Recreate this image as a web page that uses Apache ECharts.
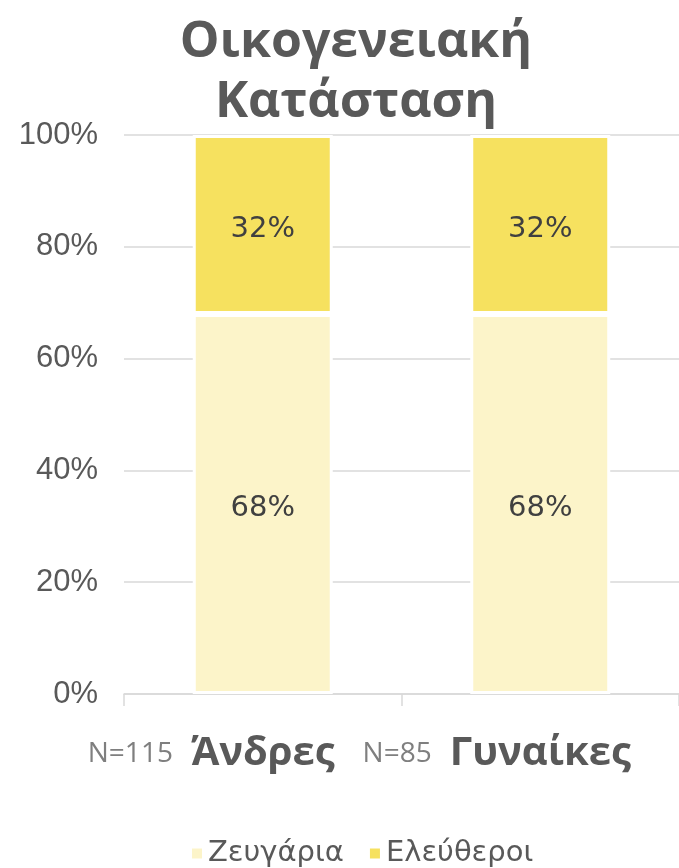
<!DOCTYPE html>
<html>
<head>
<meta charset="utf-8">
<script src="https://cdn.jsdelivr.net/npm/echarts@6/dist/echarts.min.js"></script>
<style>
  html, body { margin: 0; padding: 0; background: #fff; }
  #chart { width: 679px; height: 868px; }
</style>
</head>
<body>
<div id="chart"></div>
<script>
// δεδομένα
var categories = ['Άνδρες', 'Γυναίκες'];
var sampleSizes = ['N=115', 'N=85'];
var seriesNames = ['Ζευγάρια', 'Ελεύθεροι'];
var couples = [68, 68];
var singles = [32, 32];
var yTicks = [0, 20, 40, 60, 80, 100];

var chart = echarts.init(document.getElementById('chart'));

// πλάτος του "N=..." ώστε το όνομα να μένει κεντραρισμένο στην κατηγορία
var nFont = '28px "Open Sans"';
var nGap = 18;
var ctx = document.createElement('canvas').getContext('2d');
ctx.font = nFont;
var xRich = {
    n: { fontFamily: 'Open Sans', fontSize: 28, color: '#7F7F7F', padding: [0, nGap, 0, 0] },
    b: { fontFamily: 'Open Sans', fontWeight: 'bold', fontSize: 40, color: '#595959' }
};
sampleSizes.forEach(function (s, i) {
    xRich['p' + i] = { width: Math.round(ctx.measureText(s).width) + nGap };
});

var labelStyle = {
    show: true,
    position: 'inside',
    offset: [0, 5],
    formatter: '{c}%',
    fontFamily: 'DejaVu Sans',
    fontSize: 29,
    color: '#404040'
};

var option = {
    animation: false,
    title: {
        text: 'Οικογενειακή\nΚατάσταση',
        left: 351,
        top: 8,
        textAlign: 'center',
        textStyle: {
            fontFamily: 'Open Sans',
            fontWeight: 'bold',
            fontSize: 50,
            lineHeight: 60,
            color: '#595959'
        }
    },
    legend: {
        data: seriesNames,
        left: 185,
        top: 834,
        icon: 'rect',
        itemWidth: 12,
        itemHeight: 12,
        itemGap: 24,
        textStyle: {
            fontFamily: 'DejaVu Sans',
            fontSize: 29,
            color: '#595959'
        }
    },
    grid: {
        left: 124,
        right: 0,
        top: 135,
        bottom: 174,
        outerBoundsMode: 'none'
    },
    xAxis: {
        type: 'category',
        data: categories,
        axisLine: { lineStyle: { color: '#D9D9D9', width: 1.5 } },
        axisTick: { show: true, length: 12, lineStyle: { color: '#D9D9D9', width: 1.5 } },
        axisLabel: {
            interval: 0,
            hideOverlap: false,
            margin: 40,
            formatter: function (v, i) {
                return '{n|' + sampleSizes[i] + '}{b|' + v + '}{p' + i + '|}';
            },
            rich: xRich
        }
    },
    yAxis: {
        type: 'value',
        min: yTicks[0],
        max: yTicks[yTicks.length - 1],
        interval: 20,
        axisLine: { show: false },
        axisTick: { show: false },
        splitLine: { lineStyle: { color: '#D9D9D9', width: 1.5 } },
        axisLabel: {
            formatter: '{value}%',
            margin: 26,
            fontFamily: 'Liberation Sans',
            fontSize: 31,
            color: '#595959'
        }
    },
    series: [
        {
            name: seriesNames[0],
            type: 'bar',
            stack: 'total',
            barWidth: 140,
            data: couples,
            itemStyle: { color: '#FCF4C9', borderColor: '#ffffff', borderWidth: 3 },
            label: labelStyle
        },
        {
            name: seriesNames[1],
            type: 'bar',
            stack: 'total',
            barWidth: 140,
            data: singles,
            itemStyle: { color: '#F6E15F', borderColor: '#ffffff', borderWidth: 3 },
            label: labelStyle
        }
    ]
};

chart.setOption(option);
</script>
</body>
</html>
